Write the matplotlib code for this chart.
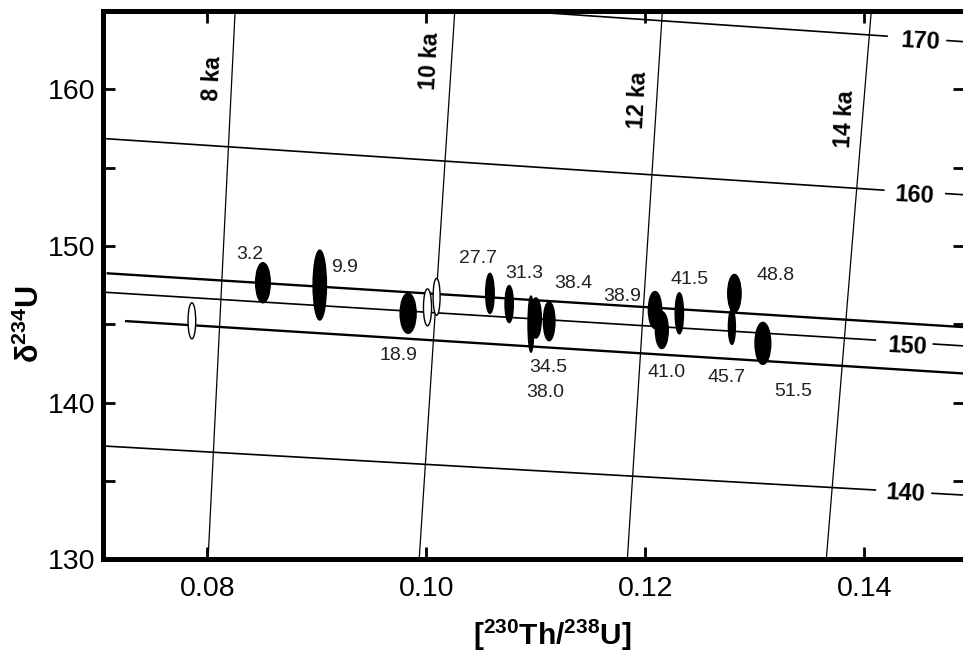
from __future__ import annotations

import numpy as np
import matplotlib

matplotlib.use("Agg")
import matplotlib.pyplot as plt
from matplotlib.patches import Ellipse
from matplotlib.ticker import FixedLocator, MultipleLocator, FormatStrFormatter

# Axis ranges (right edge is cropped)
x_limits = (0.0705, 0.1492)
y_limits = (130.0, 165.0)
x_tick_values = [0.08, 0.10, 0.12, 0.14]

# Isochrons (age lines), drawn from bottom to top of the plot
isochron_labels = ["8 ka", "10 ka", "12 ka", "14 ka"]
isochron_x_bottom = [0.08007, 0.09935, 0.11836, 0.13653]
isochron_x_top = [0.08254, 0.10260, 0.12156, 0.14064]
isochron_y = [130.0, 165.0]
isochron_label_x = [0.08048, 0.10032, 0.11937, 0.13827]
isochron_label_y = [160.7, 161.8, 159.3, 158.1]

# Initial delta-234U evolution lines (NaN marks the gap for the inline label)
initial_labels = ["170", "160", "150", "140"]
initial_x = [
    [0.1040, 0.14208, np.nan, 0.14756, 0.1495],
    [0.0700, 0.14178, np.nan, 0.14745, 0.1495],
    [0.0700, 0.14101, np.nan, 0.14631, 0.1495],
    [0.0700, 0.14101, np.nan, 0.14619, 0.1495],
]
initial_y = [
    [165.22, 163.40, np.nan, 163.12, 163.03],
    [156.89, 153.57, np.nan, 153.35, 153.26],
    [147.08, 144.00, np.nan, 143.75, 143.61],
    [137.26, 134.43, np.nan, 134.22, 134.09],
]
initial_label_x = [0.14512, 0.14457, 0.14391, 0.14375]
initial_label_y = [163.04, 153.25, 143.57, 134.22]

# Thicker bounding lines around the data
bound_upper_x = [0.07091, 0.1495]
bound_upper_y = [148.26, 144.81]
bound_lower_x = [0.07259, 0.1495]
bound_lower_y = [145.21, 141.85]

# Samples: ellipse centres, half widths (2 sigma) and fill
sample_x = [0.07859, 0.08508, 0.09027, 0.09834, 0.10011, 0.10094, 0.10581, 0.10757,
            0.11001, 0.10956, 0.11122, 0.12089, 0.12151, 0.12311, 0.12814, 0.12791,
            0.13074]
sample_y = [145.23, 147.66, 147.51, 145.71, 146.09, 146.76, 146.98, 146.30,
            145.41, 145.02, 145.20, 145.92, 144.64, 145.71, 146.98, 144.85,
            143.79]
sample_x_err = [0.00035, 0.00067, 0.00061, 0.00073, 0.00037, 0.00032, 0.00039, 0.00038,
                0.00050, 0.00027, 0.00053, 0.00061, 0.00059, 0.00038, 0.00061, 0.00032,
                0.00072]
sample_y_err = [1.15, 1.28, 2.23, 1.28, 1.18, 1.18, 1.28, 1.18,
                1.28, 1.79, 1.24, 1.18, 1.18, 1.31, 1.21, 1.12,
                1.34]
sample_filled = [False, True, True, True, False, False, True, True,
                 True, True, True, True, True, True, True, True,
                 True]

# Depth labels next to the samples
depth_labels = ["3.2", "9.9", "18.9", "27.7", "31.3", "38.4", "38.9", "34.5",
                "38.0", "41.0", "41.5", "48.8", "45.7", "51.5"]
depth_label_x = [0.08387, 0.09255, 0.09743, 0.10474, 0.10892, 0.11340, 0.11785, 0.11111,
                 0.11084, 0.12196, 0.12400, 0.13187, 0.12745, 0.13351]
depth_label_y = [149.49, 148.64, 143.04, 149.22, 148.26, 147.58, 146.76, 142.28,
                 140.68, 141.90, 147.89, 148.15, 141.58, 140.70]


def setup_fonts() -> None:
    plt.rcParams["font.family"] = ["Liberation Sans", "DejaVu Sans"]
    plt.rcParams["mathtext.fontset"] = "custom"
    plt.rcParams["mathtext.rm"] = "Liberation Sans"
    plt.rcParams["mathtext.it"] = "Liberation Sans:italic"
    plt.rcParams["mathtext.bf"] = "Liberation Sans:bold"


def draw_grid_lines(ax: plt.Axes) -> None:
    for label, x0, x1, lx, ly in zip(
        isochron_labels, isochron_x_bottom, isochron_x_top, isochron_label_x, isochron_label_y
    ):
        ax.plot([x0, x1], isochron_y, color="black", lw=0.9, zorder=2)
        ax.text(lx, ly, label, rotation=87, ha="center", va="center",
                fontsize=16.5, fontweight="bold", zorder=3)

    for label, xs, ys, lx, ly in zip(
        initial_labels, initial_x, initial_y, initial_label_x, initial_label_y
    ):
        ax.plot(xs, ys, color="black", lw=1.2, zorder=2)
        ax.text(lx, ly, label, rotation=-3, ha="center", va="center",
                fontsize=17, fontweight="bold", zorder=3, clip_on=False)

    ax.plot(bound_upper_x, bound_upper_y, color="black", lw=1.7, zorder=2)
    ax.plot(bound_lower_x, bound_lower_y, color="black", lw=1.7, zorder=2)


def draw_samples(ax: plt.Axes) -> None:
    for x, y, xe, ye, filled in zip(sample_x, sample_y, sample_x_err, sample_y_err, sample_filled):
        ax.add_patch(
            Ellipse(
                (x, y),
                width=2 * xe,
                height=2 * ye,
                facecolor="black" if filled else "white",
                edgecolor="black",
                lw=1.0,
                zorder=4,
            )
        )

    for text, x, y in zip(depth_labels, depth_label_x, depth_label_y):
        ax.text(x, y, text, ha="center", va="center", fontsize=14, color="#222222", zorder=5)


def main() -> None:
    setup_fonts()

    fig = plt.figure(figsize=(9.63, 6.56), dpi=100)
    ax = fig.add_axes([103.3 / 963, 96.6 / 656, (965 - 103.3) / 963, 548.3 / 656])

    draw_grid_lines(ax)
    draw_samples(ax)

    ax.set_xlim(*x_limits)
    ax.set_ylim(*y_limits)

    ax.xaxis.set_major_locator(FixedLocator(x_tick_values))
    ax.xaxis.set_major_formatter(FormatStrFormatter("%.2f"))
    ax.yaxis.set_major_locator(MultipleLocator(10))
    ax.yaxis.set_minor_locator(MultipleLocator(5))
    ax.yaxis.set_major_formatter(FormatStrFormatter("%d"))

    ax.tick_params(which="both", direction="in", length=8.6, width=2,
                   top=True, right=True, labelsize=20.5)
    ax.tick_params(axis="x", pad=12)
    ax.tick_params(axis="y", pad=6)

    for spine in ax.spines.values():
        spine.set_linewidth(3.6)
    ax.spines["right"].set_visible(False)

    ax.set_xlabel(r"$\mathbf{[^{230}Th/^{238}U]}$", fontsize=21.5)
    ax.xaxis.set_label_coords(0.521, -0.106)
    ax.set_ylabel(r"$\mathbf{\delta^{234}U}$", fontsize=22)
    ax.yaxis.set_label_coords(-0.0665, 0.428)

    fig.savefig("out.png", dpi=100)
    plt.close(fig)


if __name__ == "__main__":
    main()
